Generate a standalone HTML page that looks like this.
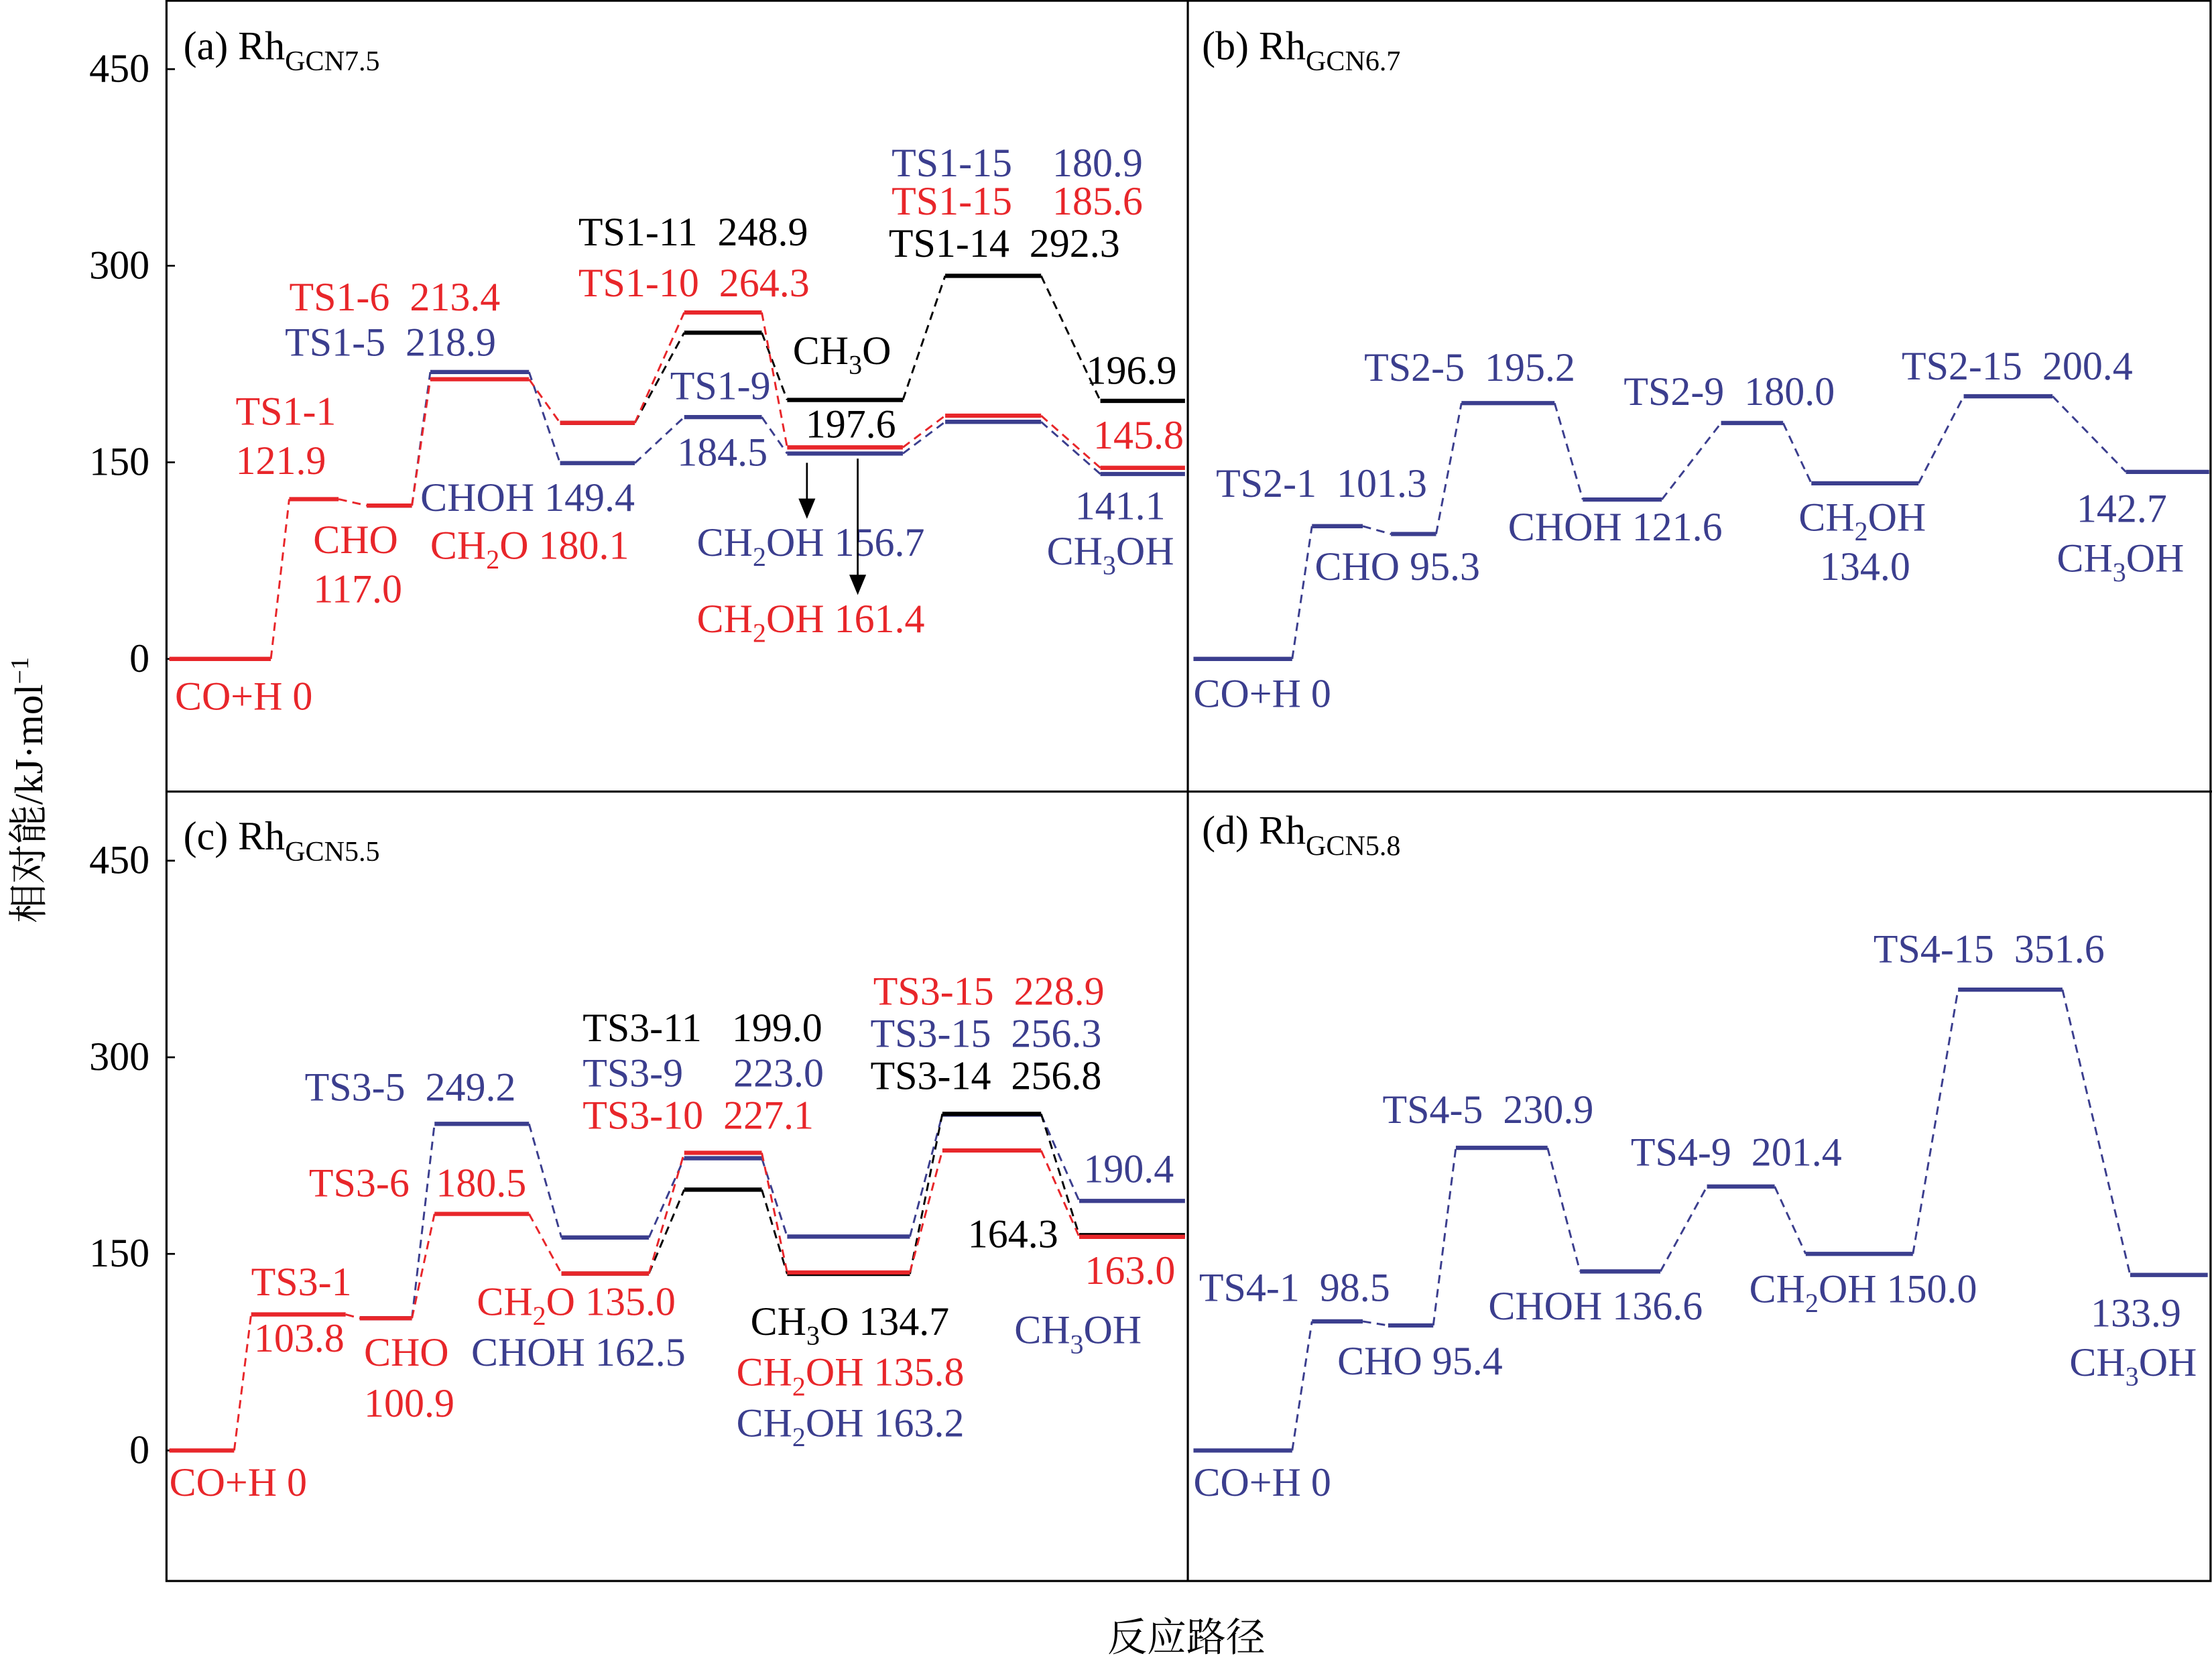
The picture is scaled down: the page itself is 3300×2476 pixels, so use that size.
<!DOCTYPE html>
<html><head><meta charset="utf-8"><style>
html,body{margin:0;padding:0;background:#fff;}
svg{display:block;}
text{font-family:"Liberation Serif","Noto Serif CJK SC",serif;font-size:28.5px;white-space:pre;}
</style></head><body>
<svg id="chart" width="3300" height="2476" viewBox="0 0 1568 1176.5" xmlns="http://www.w3.org/2000/svg">
<g id="frame" fill="none" stroke="#000" stroke-width="1.5">
<rect x="118" y="0.5" width="1449" height="1120"/>
<line x1="842" y1="0" x2="842" y2="1121"/>
<line x1="118" y1="561" x2="1568" y2="561"/>
</g>
<text x="30" y="560" transform="rotate(-90 30 560)" text-anchor="middle" style="font-size:28px">相对能/kJ·mol<tspan dy="-10" style="font-size:18px">−1</tspan></text>
<text x="841" y="1170" text-anchor="middle" style="font-size:28px">反应路径</text>
<g id="ticks"></g>
<g id="marks"></g>
<g id="labels"></g>
<g id="arrows" stroke="#000" stroke-width="1.3" fill="#000">
<line x1="572" y1="328" x2="572" y2="356"/>
<polygon points="567,354 577,354 572,366"/>
<line x1="608" y1="325" x2="608" y2="410"/>
<polygon points="603,408 613,408 608,420"/>
</g>
</svg>
<script>
const RED="#e8262a", BLUE="#3b3e8e", BLACK="#000";
const yTicks=[0,150,300,450];
// stage extents (reaction coordinate units) per panel
const stageStartA=[2,87,142,187,279,367,440,552,662], stageEndA=[74,122,174,257,332,422,522,620,722];
const stageStartB=[4,88,144,194,280,378,442,550,665], stageEndB=[74,124,176,260,336,422,518,613,724];
const stageStartC=[2,60,137,190,280,367,440,550,647], stageEndC=[48,127,174,257,342,422,527,620,722];
const stageStartD=[4,88,142,190,278,368,438,546,668], stageEndD=[74,124,174,255,335,416,514,620,723];
// energies (kJ/mol)
const aRedStages=[0,1,2,3,4,5,6,7,8], aRed=[0,121.9,117.0,213.4,180.1,264.3,161.4,185.6,145.8];
const aBlueStages=[2,3,4,5,6,7,8], aBlue=[117.0,218.9,149.4,184.5,156.7,180.9,141.1];
const aBlackStages=[4,5,6,7,8], aBlack=[180.1,248.9,197.6,292.3,196.9];
const bBlueStages=[0,1,2,3,4,5,6,7,8], bBlue=[0,101.3,95.3,195.2,121.6,180.0,134.0,200.4,142.7];
const cRedStages=[0,1,2,3,4,5,6,7,8], cRed=[0,103.8,100.9,180.5,135.0,227.1,135.8,228.9,163.0];
const cBlueStages=[2,3,4,5,6,7,8], cBlue=[100.9,249.2,162.5,223.0,163.2,256.3,190.4];
const cBlackStages=[4,5,6,7,8], cBlack=[135.0,199.0,134.7,256.8,164.3];
const dBlueStages=[0,1,2,3,4,5,6,7,8], dBlue=[0,98.5,95.4,230.9,136.6,201.4,150.0,351.6,133.9];

const NS="http://www.w3.org/2000/svg";
const panels={
 a:{left:118,y0:467,st:stageStartA,en:stageEndA},
 b:{left:842,y0:467,st:stageStartB,en:stageEndB},
 c:{left:118,y0:1028,st:stageStartC,en:stageEndC},
 d:{left:842,y0:1028,st:stageStartD,en:stageEndD}
};
const K=418/450;
function yS(p,v){return p.y0-v*K;}
function xS(p,u){return p.left+u;}
const marks=document.getElementById('marks');
function drawSeries(pk,stages,vals,color,name){
 const p=panels[pk];
 const g=document.createElementNS(NS,'g');
 
 
 marks.appendChild(g);
 for(let i=0;i<vals.length;i++){
  const s=stages[i],y=yS(p,vals[i]);
  const l=document.createElementNS(NS,'line');
  l.setAttribute('x1',xS(p,p.st[s]));l.setAttribute('x2',xS(p,p.en[s]));
  l.setAttribute('y1',y);l.setAttribute('y2',y);
  l.setAttribute('stroke',color);l.setAttribute('stroke-width','3');
  
  
  g.appendChild(l);
  if(i>0){
   const d=document.createElementNS(NS,'line');
   d.setAttribute('x1',xS(p,p.en[stages[i-1]]));d.setAttribute('y1',yS(p,vals[i-1]));
   d.setAttribute('x2',xS(p,p.st[s]));d.setAttribute('y2',y);
   d.setAttribute('stroke',color);d.setAttribute('stroke-width','1.4');d.setAttribute('stroke-dasharray','6,4');
   
   
   g.appendChild(d);
  }
 }
}
drawSeries('a',aBlackStages,aBlack,BLACK,'a-black-path');
drawSeries('a',aBlueStages,aBlue,BLUE,'a-blue-path');
drawSeries('a',aRedStages,aRed,RED,'a-red-path');
drawSeries('b',bBlueStages,bBlue,BLUE,'b-blue-path');
drawSeries('c',cBlueStages,cBlue,BLUE,'c-blue-path');
drawSeries('c',cBlackStages,cBlack,BLACK,'c-black-path');
drawSeries('c',cRedStages,cRed,RED,'c-red-path');
drawSeries('d',dBlueStages,dBlue,BLUE,'d-blue-path');

const ticks=document.getElementById('ticks');
[panels.a,panels.c].forEach((p,pi)=>{
 yTicks.forEach(v=>{
  const y=yS(p,v);
  const t=document.createElementNS(NS,'text');
  t.setAttribute('x',106);t.setAttribute('y',y+9);t.setAttribute('text-anchor','end');
  t.textContent=v;
  
  
  ticks.appendChild(t);
  const m=document.createElementNS(NS,'line');
  m.setAttribute('x1',118);m.setAttribute('x2',124);m.setAttribute('y1',y);m.setAttribute('y2',y);
  m.setAttribute('stroke','#000');m.setAttribute('stroke-width','1.3');
  
  
  ticks.appendChild(m);
 });
});

// labels: [text, x, y, color]; "_x" = subscript char, "^X" = panel subscript
const labels=[
 ["(a) Rh^GCN7.5",130,42,BLACK],["TS1-1",167,301,RED],["121.9",167,336,RED],["CHO",222,392,RED],["117.0",222,427,RED],
 ["TS1-6  213.4",205,220,RED],["TS1-5  218.9",202,252,BLUE],["CHOH 149.4",298,362,BLUE],["CH_2O 180.1",305,396,RED],
 ["TS1-11  248.9",410,174,BLACK],["TS1-10  264.3",410,210,RED],["CH_3O",562,258,BLACK],["TS1-9",475,283,BLUE],
 ["197.6",571,310,BLACK],["184.5",480,330,BLUE],["CH_2OH 156.7",494,394,BLUE],["CH_2OH 161.4",494,448,RED],
 ["TS1-15    180.9",632,125,BLUE],["TS1-15    185.6",632,152,RED],["TS1-14  292.3",630,182,BLACK],
 ["196.9",770,272,BLACK],["145.8",775,318,RED],["141.1",762,368,BLUE],["CH_3OH",742,400,BLUE],["CO+H 0",124,503,RED],
 ["(b) Rh^GCN6.7",852,42,BLACK],["TS2-5  195.2",967,270,BLUE],["TS2-1  101.3",862,352,BLUE],["CHO 95.3",932,411,BLUE],
 ["CHOH 121.6",1069,383,BLUE],["TS2-9  180.0",1151,287,BLUE],["CH_2OH",1275,376,BLUE],["134.0",1290,411,BLUE],
 ["TS2-15  200.4",1348,269,BLUE],["142.7",1472,370,BLUE],["CH_3OH",1458,405,BLUE],["CO+H 0",846,501,BLUE],
 ["(c) Rh^GCN5.5",130,602,BLACK],["TS3-5  249.2",216,780,BLUE],["TS3-6",219,848,RED],["180.5",309,848,RED],
 ["TS3-1",178,918,RED],["103.8",180,958,RED],["CHO",258,968,RED],["100.9",258,1004,RED],["CH_2O 135.0",338,932,RED],
 ["CHOH 162.5",334,968,BLUE],["TS3-11   199.0",413,738,BLACK],["TS3-9     223.0",413,770,BLUE],["TS3-10  227.1",413,800,RED],
 ["TS3-15  228.9",619,712,RED],["TS3-15  256.3",617,742,BLUE],["TS3-14  256.8",617,772,BLACK],["190.4",768,838,BLUE],
 ["164.3",686,884,BLACK],["163.0",769,910,RED],["CH_3OH",719,952,BLUE],["CH_3O 134.7",532,946,BLACK],
 ["CH_2OH 135.8",522,982,RED],["CH_2OH 163.2",522,1018,BLUE],["CO+H 0",120,1060,RED],
 ["(d) Rh^GCN5.8",852,598,BLACK],["TS4-15  351.6",1328,682,BLUE],["TS4-5  230.9",980,796,BLUE],["TS4-9  201.4",1156,826,BLUE],
 ["TS4-1  98.5",850,922,BLUE],["CHO 95.4",948,974,BLUE],["CHOH 136.6",1055,935,BLUE],["CH_2OH 150.0",1240,923,BLUE],
 ["133.9",1482,940,BLUE],["CH_3OH",1467,975,BLUE],["CO+H 0",846,1060,BLUE]
];
const lg=document.getElementById('labels');
labels.forEach((L,i)=>{
 const t=document.createElementNS(NS,'text');
 t.setAttribute('x',L[1]);t.setAttribute('y',L[2]);t.setAttribute('fill',L[3]);
 
 
 let s=L[0];
 if(s.includes('^')){
  const [a,b]=s.split('^');
  t.appendChild(document.createTextNode(a));
  const sp=document.createElementNS(NS,'tspan');sp.setAttribute('dy','8');sp.setAttribute('style','font-size:20px');sp.textContent=b;
  t.appendChild(sp);
 } else {
  const m=s.match(/^(.*?)_(\d)(.*)$/);
  if(m){
   t.appendChild(document.createTextNode(m[1]));
   const sp=document.createElementNS(NS,'tspan');sp.setAttribute('dy','7');sp.setAttribute('style','font-size:19px');sp.textContent=m[2];
   t.appendChild(sp);
   const r=document.createElementNS(NS,'tspan');r.setAttribute('dy','-7');r.textContent=m[3];
   t.appendChild(r);
  } else t.textContent=s;
 }
 lg.appendChild(t);
});
</script>
</body></html>
